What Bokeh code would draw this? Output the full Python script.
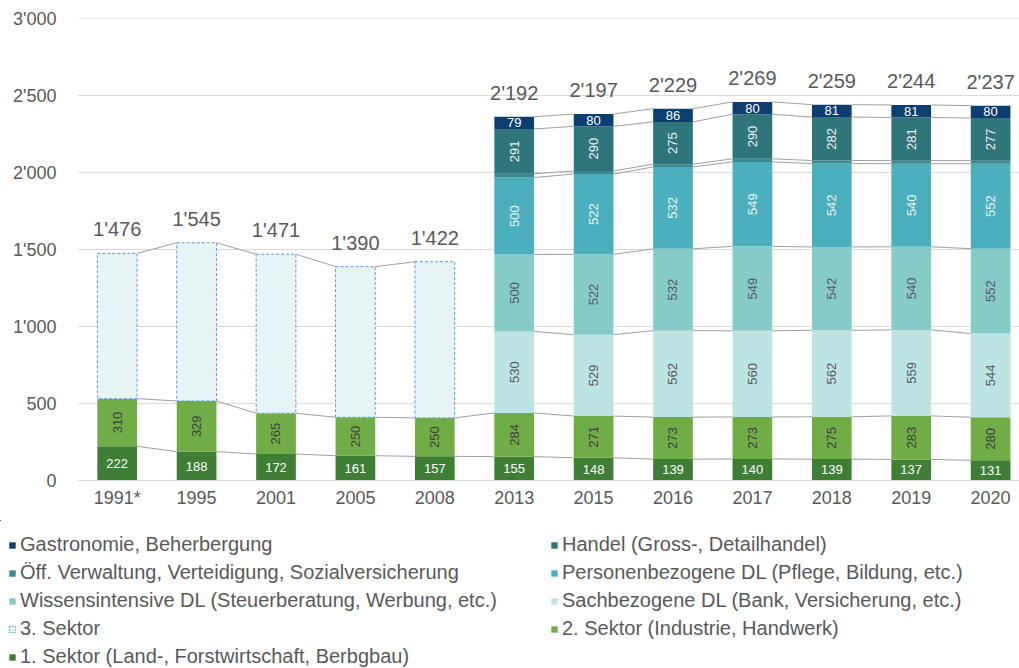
import numpy as np
from bokeh.plotting import figure
from bokeh.models import Range1d, FixedTicker, Legend, LegendItem, ColumnDataSource
from bokeh.core.properties import value
from bokeh.embed import file_html
from bokeh.resources import INLINE

nan = float("nan")

# ---------------- data ----------------
years = ["1991*", "1995", "2001", "2005", "2008", "2013", "2015", "2016", "2017", "2018", "2019", "2020"]
total_labels = ["1'476", "1'545", "1'471", "1'390", "1'422", "2'192", "2'197", "2'229", "2'269", "2'259", "2'244", "2'237"]

sektor1 = [222, 188, 172, 161, 157, 155, 148, 139, 140, 139, 137, 131]
sektor2 = [310, 329, 265, 250, 250, 284, 271, 273, 273, 275, 283, 280]
sektor3 = [944, 1028, 1034, 979, 1015, nan, nan, nan, nan, nan, nan, nan]
sachbezogen = [nan, nan, nan, nan, nan, 530, 529, 562, 560, 562, 559, 544]
wissensintensiv = [nan, nan, nan, nan, nan, 500, 522, 532, 549, 542, 540, 552]
personenbezogen = [nan, nan, nan, nan, nan, 500, 522, 532, 549, 542, 540, 552]
oeff_verwaltung = [nan, nan, nan, nan, nan, 25, 20, 18, 20, 20, 20, 20]
handel = [nan, nan, nan, nan, nan, 291, 290, 275, 290, 282, 281, 277]
gastronomie = [nan, nan, nan, nan, nan, 79, 80, 86, 80, 81, 81, 80]

y_ticks = [0, 500, 1000, 1500, 2000, 2500, 3000]
y_tick_labels = ["0", "500", "1'000", "1'500", "2'000", "2'500", "3'000"]

names = {
    "s1": "1. Sektor (Land-, Forstwirtschaft, Berbgbau)",
    "s2": "2. Sektor (Industrie, Handwerk)",
    "s3": "3. Sektor",
    "sach": "Sachbezogene DL (Bank, Versicherung, etc.)",
    "wiss": "Wissensintensive DL (Steuerberatung, Werbung, etc.)",
    "pers": "Personenbezogene DL (Pflege, Bildung, etc.)",
    "oeff": "Öff. Verwaltung, Verteidigung, Sozialversicherung",
    "hand": "Handel (Gross-, Detailhandel)",
    "gast": "Gastronomie, Beherbergung",
}

# stacking order bottom -> top: key, values, fill, label color, label angle (None = no label)
series = [
    ("s1", sektor1, "#3E7E35", "#FFFFFF", 0.0),
    ("s2", sektor2, "#70AD47", "#404040", np.pi / 2),
    ("s3", sektor3, "#E7F4F6", None, None),
    ("sach", sachbezogen, "#BDE3E3", "#595959", np.pi / 2),
    ("wiss", wissensintensiv, "#86CBC8", "#595959", np.pi / 2),
    ("pers", personenbezogen, "#4BAFBE", "#E8F4F4", np.pi / 2),
    ("oeff", oeff_verwaltung, "#3A8990", None, None),
    ("hand", handel, "#2F757A", "#E8F0F0", np.pi / 2),
    ("gast", gastronomie, "#0D3E70", "#FFFFFF", 0.0),
]
S3_LINE = "#5B9BD5"

FONT = value("Liberation Sans")
GRAY = "#595959"
W = 0.5

p = figure(width=1019, height=520, output_backend="svg", toolbar_location=None,
           x_range=Range1d(-0.5, 11.364), y_range=Range1d(0, 3003),
           min_border_left=77, min_border_right=0, min_border_top=18, min_border_bottom=40)
p.outline_line_color = None
p.background_fill_color = "white"
p.xgrid.grid_line_color = None
p.ygrid.grid_line_color = "#D9D9D9"
p.ygrid.grid_line_width = 1

xs = np.arange(len(years), dtype=float)
cum = np.zeros(len(years))
tops = {}
for key, vals, color, lcolor, angle in series:
    v = np.array(vals, dtype=float)
    mask = ~np.isnan(v)
    bottom = cum.copy()
    top = cum + np.where(mask, v, 0)
    tops[key] = np.where(mask, top, np.nan)
    src = ColumnDataSource(dict(x=xs[mask], bottom=bottom[mask], top=top[mask]))
    if key == "s3":
        p.vbar(x="x", bottom="bottom", top="top", width=W, source=src,
               fill_color=color, line_color=S3_LINE, line_dash="3 2", line_width=1)
    else:
        p.vbar(x="x", bottom="bottom", top="top", width=W, source=src,
               fill_color=color, line_color=None)
    if lcolor is not None:
        lsrc = ColumnDataSource(dict(x=xs[mask], y=(bottom[mask] + top[mask]) / 2,
                                     t=[str(int(a)) for a in v[mask]]))
        p.text(x="x", y="y", text="t", source=lsrc, angle=angle, text_align="center",
               text_baseline="middle", text_font=FONT, text_font_size="13px", text_color=lcolor)
    cum = top

# series lines connecting tops of same series between neighbouring bars
x0, y0, x1, y1 = [], [], [], []
for key, vals, *_ in series:
    t = tops[key]
    for i in range(len(years) - 1):
        if not np.isnan(t[i]) and not np.isnan(t[i + 1]):
            x0.append(xs[i] + W / 2); y0.append(t[i])
            x1.append(xs[i + 1] - W / 2); y1.append(t[i + 1])
p.segment(x0=x0, y0=y0, x1=x1, y1=y1, line_color="#A0A0A0", line_width=1)

# totals
tsrc = ColumnDataSource(dict(x=xs, y=cum, t=total_labels))
p.text(x="x", y="y", text="t", source=tsrc, text_align="center", text_baseline="middle",
       y_offset=-24, text_font=FONT, text_font_size="20px", text_color=GRAY)

# axes
p.xaxis.ticker = FixedTicker(ticks=list(range(len(years))))
p.xaxis.major_label_overrides = {i: y for i, y in enumerate(years)}
p.yaxis.ticker = FixedTicker(ticks=y_ticks)
p.yaxis.major_label_overrides = {t: l for t, l in zip(y_ticks, y_tick_labels)}
for ax in (p.xaxis[0], p.yaxis[0]):
    ax.major_tick_line_color = None
    ax.minor_tick_line_color = None
    ax.major_label_text_font = "Liberation Sans"
    ax.major_label_text_font_size = "18px"
    ax.major_label_text_color = GRAY
p.yaxis.axis_line_color = None
p.yaxis.major_label_standoff = 15
p.xaxis.axis_line_color = "#D9D9D9"
p.xaxis.major_label_standoff = 1

# ---------------- legend (separate strip below the chart) ----------------
# the key swatches come from the same series; their bars lie outside this strip's visible range
lg = figure(width=1019, height=148, output_backend="svg", toolbar_location=None,
            x_axis_type=None, y_axis_type=None, min_border=0,
            min_border_left=0, min_border_right=0, min_border_top=0, min_border_bottom=0,
            x_range=Range1d(100, 101), y_range=Range1d(-2, -1))
lg.outline_line_color = None
lr = {}
for key, vals, color, lcolor, angle in series:
    v = np.array(vals, dtype=float)
    mask = ~np.isnan(v)
    src = ColumnDataSource(dict(x=xs[mask], top=v[mask]))
    if key == "s3":
        lr[key] = lg.vbar(x="x", top="top", width=W, source=src, fill_color=color,
                          line_color=S3_LINE, line_dash="2 1", line_width=1)
    else:
        lr[key] = lg.vbar(x="x", top="top", width=W, source=src, fill_color=color,
                          line_color=None)


def make_legend(keys, loc):
    return Legend(items=[LegendItem(label=names[k], renderers=[lr[k]]) for k in keys],
                  location=loc, orientation="vertical", padding=0, margin=0,
                  border_line_color=None, background_fill_alpha=0,
                  glyph_width=8, glyph_height=8, label_height=20, spacing=5,
                  label_standoff=4, label_text_font="Liberation Sans",
                  label_text_font_size="20px", label_text_color=GRAY)


lg.add_layout(make_legend(["gast", "oeff", "wiss", "s3", "s1"], (8, 0)))
lg.add_layout(make_legend(["hand", "pers", "sach", "s2"], (550, 28)))

open("out.html", "w").write(file_html([p, lg], INLINE))
